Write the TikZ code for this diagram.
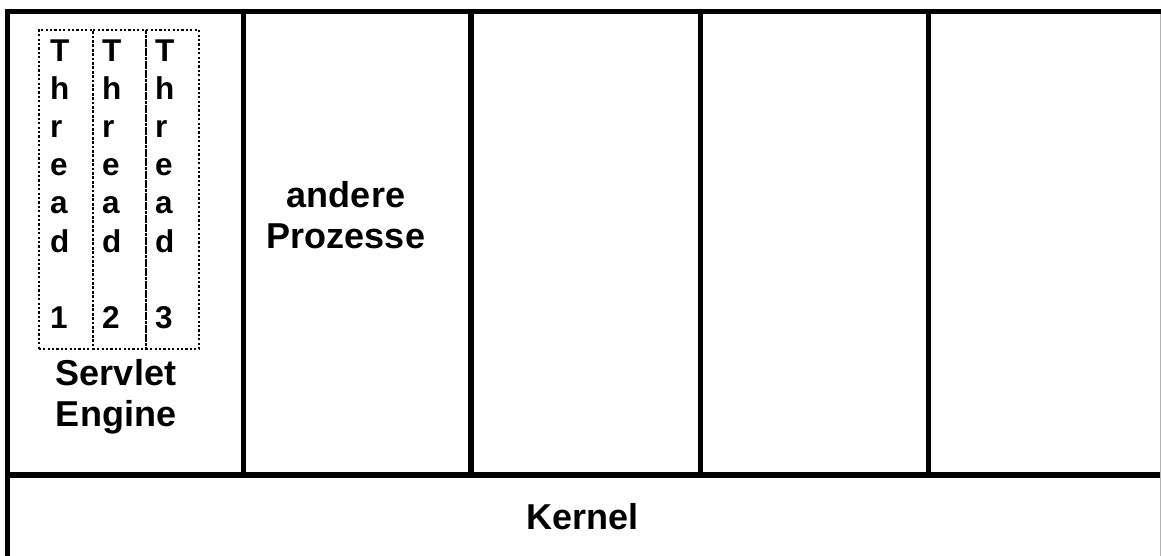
\documentclass[tikz,border=0pt]{standalone}
\usepackage{fontspec}
\setmainfont{Liberation Sans}
\begin{document}
\begin{tikzpicture}[x=1pt,y=-1pt,
  frame/.style={line width=5.2pt,black},
  threadbox/.style={draw,line width=1.5pt,dash pattern=on 2.2pt off 2.2pt,inner sep=0pt},
  big/.style={font=\fontsize{36}{41}\selectfont\bfseries,align=center,inner sep=0pt},
  letter/.style={font=\fontsize{31.5}{38}\selectfont\bfseries,inner sep=0pt,anchor=base west}]
\useasboundingbox (0,0) rectangle (1161,556);
\fill[white] (0,0) rectangle (1161,556);
% frame and cells
\draw[frame] (7.5,11.5) rectangle (1166,562);
\draw[frame] (7.5,475) -- (1166,475);
\draw[gray!60,line width=0.8pt] (1160.6,14) -- (1160.6,556);
\foreach \x [count=\k] in {243.5,471,700.5,928.5}
  \draw[frame] (\x,11.5) -- (\x,475);
% thread boxes
\foreach \l/\r [count=\k] in {38/92,92/145,145/198}{
  \node[threadbox,minimum width=\r pt-\l pt,minimum height=319pt,anchor=north west] (tb\k) at (\l,29.3) {};
}
\foreach \xx [count=\k] in {50,102,155}{
  \foreach \c [count=\i] in {T,h,r,e,a,d,{},\k}{
    \node[letter] (t\k-\i) at (\xx,62+38*\i-38) {\c};
  }
}
\node[big,anchor=base] (servlet) at (116,426) {Servlet\\Engine};
\node[big,anchor=base] (andere) at (346,248) {andere\\Prozesse};
\node[big,anchor=base] (kernel) at (582.5,529) {Kernel};
\end{tikzpicture}
\end{document}
